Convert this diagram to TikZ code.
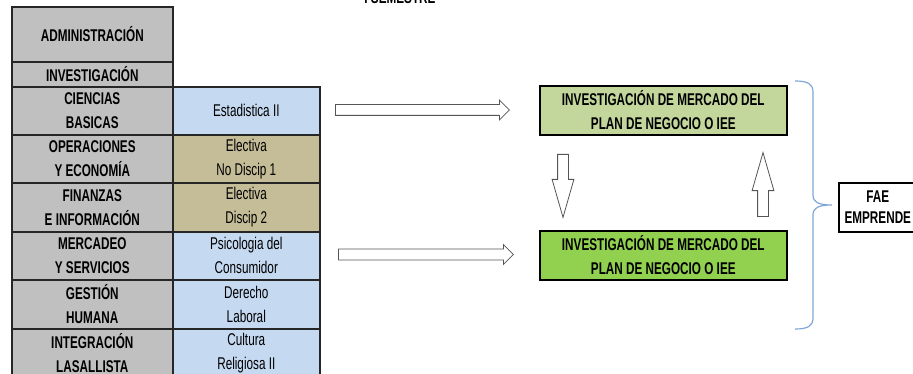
\documentclass[tikz,border=0pt]{standalone}
\usepackage{fontspec}
\setmainfont{Liberation Sans}[FakeStretch=0.69]
\usetikzlibrary{shapes.arrows}
\definecolor{cgray}{HTML}{C0C0C0}
\definecolor{cblue}{HTML}{C5D9F1}
\definecolor{ctan}{HTML}{C4BD97}
\definecolor{cgreenA}{HTML}{C3D69B}
\definecolor{cgreenB}{HTML}{92D050}
\definecolor{cbrace}{HTML}{7FA6D6}
\definecolor{carrow}{HTML}{555555}
\tikzset{
  txt/.style={font=\fontsize{17}{24}\selectfont, text=black, align=center},
  cell/.style={txt, draw=black!85, line width=1.6pt, inner sep=0pt, anchor=north west},
  head/.style={cell, fill=cgray, font=\fontsize{17}{24}\selectfont\bfseries},
  subj/.style={cell},
  gbox/.style={txt, draw=black, line width=1.6pt, inner sep=0pt, anchor=north west,
    minimum width=247pt, minimum height=49pt, font=\fontsize{17}{24}\selectfont\bfseries},
  blockarrow/.style={single arrow, draw=carrow, fill=white, line width=0.8pt, inner sep=5pt,
    minimum width=19pt, single arrow head extend=4.5pt, anchor=tail},
  vblock/.style={single arrow, draw=carrow, fill=white, line width=0.8pt, inner sep=5pt,
    minimum width=21pt, single arrow head extend=5.5pt, single arrow tip angle=32, anchor=tail},
}
\begin{document}
\begin{tikzpicture}[x=1pt,y=-1pt]
\useasboundingbox (0,0) rectangle (913,374);
\clip (0,0) rectangle (913,374);
% title (cut off at the top edge, as in the reference)
\node[txt, font=\fontsize{17}{24}\selectfont\bfseries, anchor=base, inner sep=0pt] (title) at (400,3.5) {I SEMESTRE};
% left column
\node[head, minimum width=161pt, minimum height=55pt] (h1) at (11,6) {ADMINISTRACIÓN};
\node[head, minimum width=161pt, minimum height=25pt] (h2) at (11,61) {INVESTIGACIÓN};
\node[head, minimum width=161pt, minimum height=48pt] (h3) at (11,86) {CIENCIAS\\BASICAS};
\node[head, minimum width=161pt, minimum height=48pt] (h4) at (11,134) {OPERACIONES\\Y ECONOMÍA};
\node[head, minimum width=161pt, minimum height=49pt] (h5) at (11,182) {FINANZAS\\E INFORMACIÓN};
\node[head, minimum width=161pt, minimum height=48pt] (h6) at (11,231) {MERCADEO\\Y SERVICIOS};
\node[head, minimum width=161pt, minimum height=49pt] (h7) at (11,279) {GESTIÓN\\HUMANA};
\node[head, minimum width=161pt, minimum height=48pt] (h8) at (11,328) {INTEGRACIÓN\\LASALLISTA};
% right column
\node[subj, fill=cblue, minimum width=147pt, minimum height=48pt] (s3) at (172,86) {Estadistica II};
\node[subj, fill=ctan, minimum width=147pt, minimum height=48pt] (s4) at (172,134) {Electiva\\No Discip 1};
\node[subj, fill=ctan, minimum width=147pt, minimum height=49pt] (s5) at (172,182) {Electiva\\Discip 2};
\node[subj, fill=cblue, minimum width=147pt, minimum height=48pt] (s6) at (172,231) {Psicologia del\\Consumidor};
\node[subj, fill=cblue, minimum width=147pt, minimum height=49pt] (s7) at (172,279) {Derecho\\Laboral};
\node[subj, fill=cblue, minimum width=147pt, minimum height=48pt] (s8) at (172,328) {Cultura\\Religiosa II};
% green boxes
\node[gbox, fill=cgreenA] (g1) at (539,85) {INVESTIGACIÓN DE MERCADO DEL\\PLAN DE NEGOCIO O IEE};
\node[gbox, fill=cgreenB] (g2) at (539,230) {INVESTIGACIÓN DE MERCADO DEL\\PLAN DE NEGOCIO O IEE};
% FAE box
\node[txt, draw=black, line width=1.6pt, inner sep=0pt, anchor=north west, minimum width=78pt, minimum height=49pt,
  font=\fontsize{17}{21}\selectfont\bfseries] (fae) at (838,182) {FAE\\EMPRENDE};
% block arrows
\node[blockarrow, minimum height=174pt] (a1) at (335,110) {};
\node[blockarrow, minimum height=175pt] (a2) at (338,254.5) {};
\node[vblock, minimum height=63pt, shape border rotate=270] (a3) at (563,154) {};
\node[vblock, minimum height=64pt, shape border rotate=90] (a4) at (763,217) {};
% brace
\draw[cbrace, line width=1.2pt] (795,81) .. controls (808,81) and (813,84) .. (813,92) -- (813,195)
  .. controls (813,202) and (818,205) .. (832,205)
  .. controls (818,205) and (813,208) .. (813,215) -- (813,318)
  .. controls (813,326) and (808,329) .. (795,329);
\end{tikzpicture}
\end{document}
